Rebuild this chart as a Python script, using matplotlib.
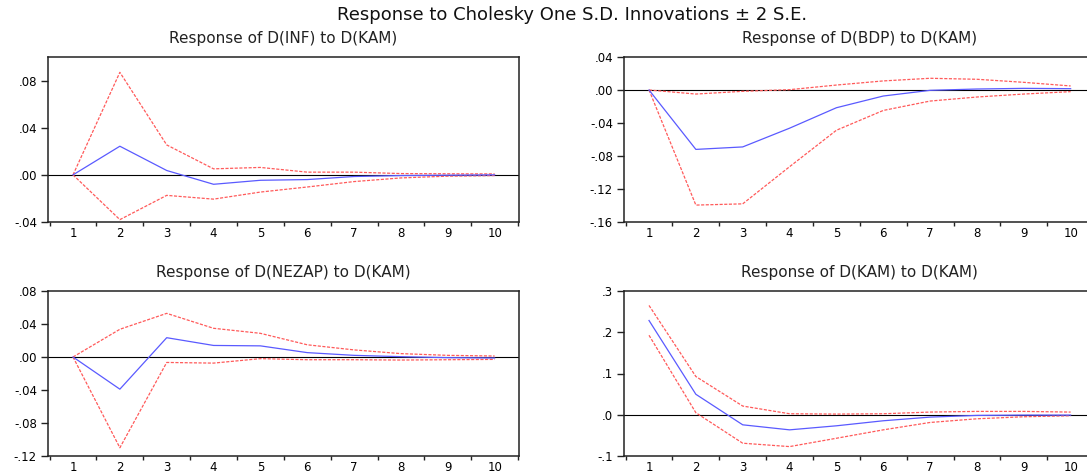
import matplotlib
matplotlib.use("Agg")
import matplotlib.pyplot as plt
from matplotlib.ticker import FixedLocator, FuncFormatter

plt.rcParams['font.family'] = ['DejaVu Sans']

# ---- data (impulse responses, 10 periods) ----
steps = list(range(1, 11))

inf_resp = [0.0, 0.0243, 0.0037, -0.0080, -0.0046, -0.0040, -0.0014, -0.0006, -0.0003, 0.0000]
inf_upper = [0.0, 0.0870, 0.0254, 0.0051, 0.0063, 0.0023, 0.0023, 0.0011, 0.0009, 0.0008]
inf_lower = [0.0, -0.0380, -0.0174, -0.0206, -0.0146, -0.0103, -0.0057, -0.0026, -0.0011, -0.0006]

bdp_resp = [0.0, -0.0720, -0.0690, -0.0463, -0.0215, -0.0073, -0.0004, 0.0012, 0.0020, 0.0016]
bdp_upper = [0.0, -0.0049, -0.0016, 0.0004, 0.0060, 0.0110, 0.0142, 0.0130, 0.0093, 0.0049]
bdp_lower = [0.0, -0.1395, -0.1380, -0.0930, -0.0488, -0.0248, -0.0134, -0.0085, -0.0049, -0.0020]

nezap_resp = [0.0, -0.0390, 0.0234, 0.0140, 0.0135, 0.0053, 0.0020, 0.0004, -0.0008, -0.0012]
nezap_upper = [0.0, 0.0336, 0.0529, 0.0348, 0.0287, 0.0148, 0.0086, 0.0041, 0.0020, 0.0012]
nezap_lower = [0.0, -0.1100, -0.0066, -0.0074, -0.0020, -0.0033, -0.0033, -0.0037, -0.0033, -0.0029]

kam_resp = [0.2285, 0.0496, -0.0244, -0.0366, -0.0268, -0.0146, -0.0057, -0.0016, -0.0008, -0.0008]
kam_upper = [0.2650, 0.0927, 0.0211, 0.0024, 0.0016, 0.0024, 0.0065, 0.0081, 0.0081, 0.0065]
kam_lower = [0.1927, 0.0049, -0.0690, -0.0772, -0.0570, -0.0366, -0.0187, -0.0098, -0.0049, -0.0024]

titles = ["Response of D(INF) to D(KAM)", "Response of D(BDP) to D(KAM)",
          "Response of D(NEZAP) to D(KAM)", "Response of D(KAM) to D(KAM)"]
main_title = "Response to Cholesky One S.D. Innovations \u00b1 2 S.E."

W, H = 1087, 474
fig = plt.figure(figsize=(W / 100, H / 100), dpi=100)


def px_axes(left, top, width, height):
    return fig.add_axes([left / W, 1 - (top + height) / H, width / W, height / H])


def no_lead_zero(decimals):
    def f(v, pos):
        s = f"{v:.{decimals}f}"
        if s.startswith("-") and float(s) == 0:
            s = s[1:]
        return s.replace("0.", ".", 1)
    return FuncFormatter(f)


panels = [
    (48, 57, inf_resp, inf_upper, inf_lower, (-0.04, 0.10), [-0.04, 0.0, 0.04, 0.08], 2),
    (624, 57, bdp_resp, bdp_upper, bdp_lower, (-0.16, 0.04), [-0.16, -0.12, -0.08, -0.04, 0.0, 0.04], 2),
    (48, 291, nezap_resp, nezap_upper, nezap_lower, (-0.12, 0.08), [-0.12, -0.08, -0.04, 0.0, 0.04, 0.08], 2),
    (624, 291, kam_resp, kam_upper, kam_lower, (-0.1, 0.3), [-0.1, 0.0, 0.1, 0.2, 0.3], 1),
]

for (left, top, resp, up, lo, ylim, yticks, dec), title in zip(panels, titles):
    ax = px_axes(left, top, 471, 165)
    ax.axhline(0, color='black', lw=0.8, zorder=1)
    ax.plot(steps, up, color='#ff5a5a', lw=0.9, dashes=(2.5, 1.2), zorder=2)
    ax.plot(steps, lo, color='#ff5a5a', lw=0.9, dashes=(2.5, 1.2), zorder=2)
    ax.plot(steps, resp, color='#5a5aff', lw=0.9, zorder=3)
    ax.set_xlim(0.466, 10.52)
    ax.set_ylim(*ylim)
    ax.xaxis.set_major_locator(FixedLocator(steps))
    ax.xaxis.set_minor_locator(FixedLocator([s - 0.5 for s in steps] + [10.5]))
    ax.yaxis.set_major_locator(FixedLocator(yticks))
    ax.yaxis.set_major_formatter(no_lead_zero(dec))
    ax.tick_params(axis='x', which='major', length=0, pad=3.5, labelsize=8.5)
    ax.tick_params(axis='x', which='minor', direction='out', length=3, width=1, color='#222222')
    ax.tick_params(axis='y', direction='out', length=5, width=1, pad=3, labelsize=8.5, color='#222222')
    for sp in ax.spines.values():
        sp.set_color('#222222')
        sp.set_linewidth(1.1)
    ax.text(0.5, 1 + 18.5 / 165, title, transform=ax.transAxes, ha='center', va='center',
            fontsize=11, color='#222222')

fig.text(572 / W, 1 - 15 / H, main_title, ha='center', va='center', fontsize=13, color='#111111')

fig.savefig("out.png", dpi=100)
